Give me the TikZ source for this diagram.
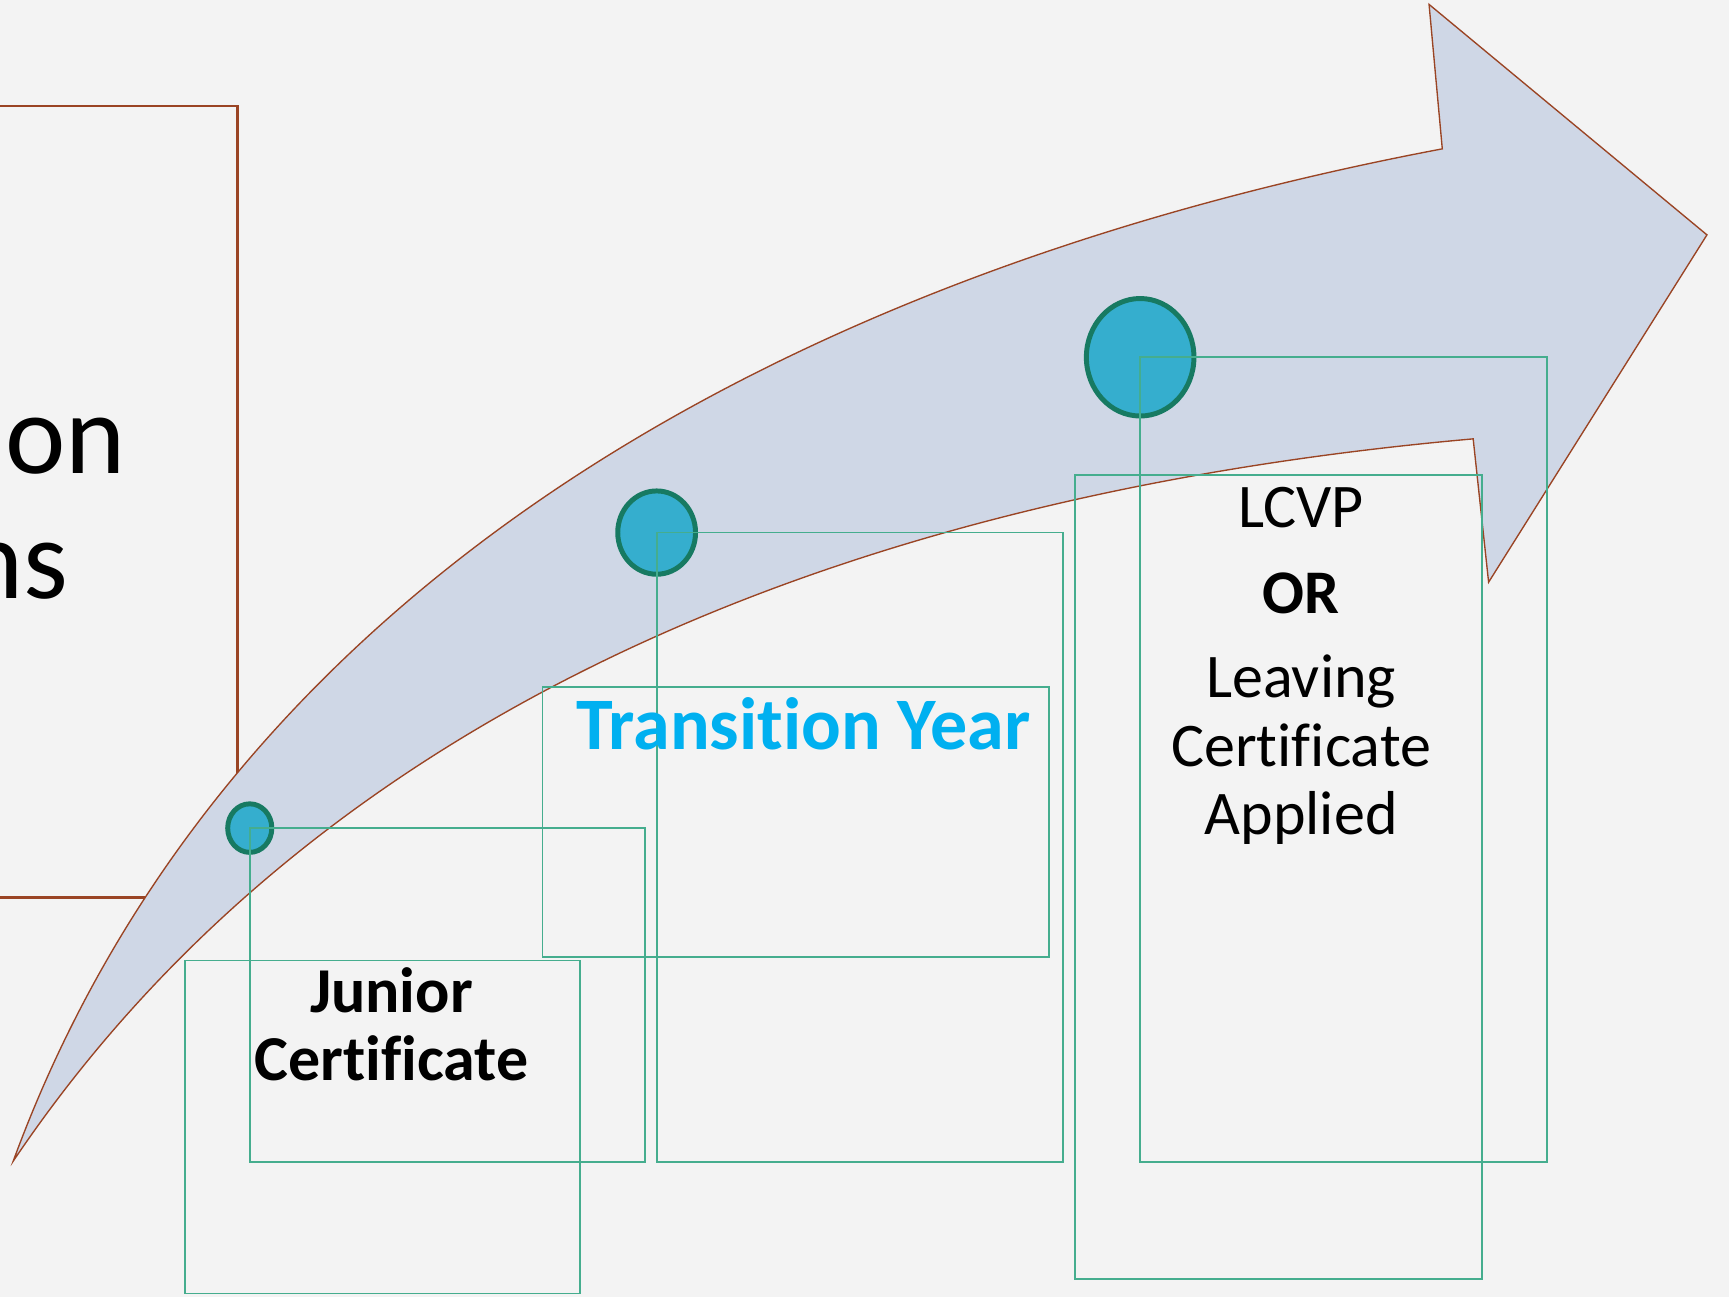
\documentclass[tikz,border=0pt]{standalone}
\usepackage{fontspec}
\setmainfont{Carlito}[Ligatures=NoCommon]
\usetikzlibrary{shapes.geometric}
\definecolor{bg}{HTML}{F3F3F3}
\definecolor{arrowfill}{HTML}{CFD7E6}
\definecolor{brownline}{HTML}{9A4424}
\definecolor{dotfill}{HTML}{35AECE}
\definecolor{dotline}{HTML}{177A62}
\definecolor{boxline}{HTML}{45AD8E}
\definecolor{tyblue}{HTML}{00B0F0}
\tikzset{
  bigtext/.style={font=\fontsize{29.5}{36}\selectfont, inner sep=0pt},
  brownbox/.style={draw=brownline, line width=0.6pt},
  arrowshape/.style={draw=brownline, line width=0.35pt, fill=arrowfill},
  dot/.style={ellipse, draw=dotline, line width=1.28pt, fill=dotfill, inner sep=0pt},
  greenbox/.style={draw=boxline, line width=0.45pt},
  jtext/.style={font=\bfseries\fontsize{16.5}{19}\selectfont, anchor=base, inner sep=0pt},
  lctext/.style={font=\fontsize{16}{19}\selectfont, anchor=base, inner sep=0pt},
  lcbold/.style={font=\bfseries\fontsize{16}{19}\selectfont, anchor=base, inner sep=0pt},
  tytext/.style={font=\bfseries\fontsize{19.1}{22}\selectfont, text=tyblue, anchor=base, inner sep=0pt}
}
\begin{document}
\begin{tikzpicture}[x=0.01cm,y=-0.01cm]
\useasboundingbox[fill=bg] (0,0) rectangle (1568,1176);
% left brown box
\draw[brownbox] (-30,96) rectangle (215.5,814);
\node[bigtext, anchor=base west] (on) at (4,429) {on};
\node[bigtext, anchor=base east] (ns) at (63,543) {ns};
% curved arrow
\draw[arrowshape] (12,1053) .. controls (200,540) and (700,250) .. (1308,135)
  -- (1296,4) -- (1548,213) -- (1350,528) -- (1336,398)
  .. controls (750,450) and (280,655) .. (12,1053) -- cycle;
% dots
\node[dot, minimum width=0.40cm, minimum height=0.44cm] (c1) at (226.5,751) {};
\node[dot, minimum width=0.705cm, minimum height=0.755cm] (c2) at (595.5,483) {};
\node[dot, minimum width=0.975cm, minimum height=1.065cm] (c3) at (1034,324) {};
% boxes
\coordinate (r1) at (585,1054);
\coordinate (r3) at (964,1054);
\coordinate (r5) at (1403,1054);
\draw[greenbox] (c1.center) rectangle (r1);
\draw[greenbox] (c2.center) rectangle (r3);
\draw[greenbox] (c3.center) rectangle (r5);
\coordinate (jA) at (168,871);
\coordinate (jB) at (526,1173);
\coordinate (tA) at (492,623);
\coordinate (tB) at (951,868);
\coordinate (lA) at (975,431);
\coordinate (lB) at (1344,1160);
\draw[greenbox] (jA) rectangle (jB);
\draw[greenbox] (tA) rectangle (tB);
\draw[greenbox] (lA) rectangle (lB);
% texts
\node[jtext] (j1) at (355,918) {Junior};
\node[jtext] (j2) at (355,980) {Certificate};
\node[tytext] (ty) at (728.5,680) {Transition Year};
\node[lctext] (l1) at (1180,478) {LCVP};
\node[lcbold] (l2) at (1180,556) {OR};
\node[lctext] (l3) at (1180,633) {Leaving};
\node[lctext] (l4) at (1180,695) {Certificate};
\node[lctext] (l5) at (1180,757) {Applied};
\end{tikzpicture}
\end{document}
